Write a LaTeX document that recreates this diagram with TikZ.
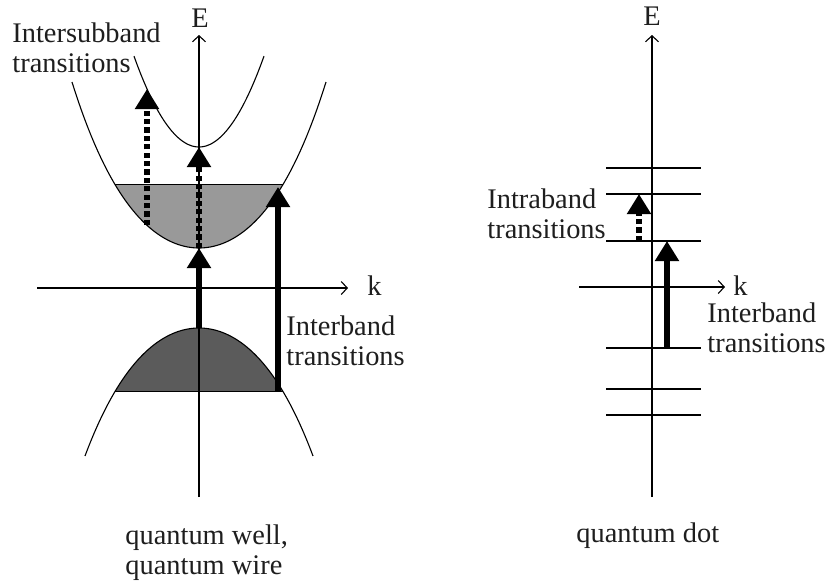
\documentclass[tikz,border=0pt]{standalone}
\usepackage{fontspec}
\setmainfont{Liberation Serif}
\usetikzlibrary{arrows.meta}
\definecolor{lightband}{HTML}{999999}
\definecolor{darkband}{HTML}{5B5B5B}
\definecolor{txt}{HTML}{1E1E1E}
\begin{document}
\begin{tikzpicture}[x=0.5pt,y=-0.5pt,
  thinline/.style={line width=0.55pt, black},
  axis/.style={thinline, -{Straight Barb[length=3pt,width=6.5pt]}},
  level/.style={thinline},
  solidarrow/.style={line width=3pt, black, -{Triangle[width=11.5pt,length=10pt]}},
  dasharrow/.style={line width=2.6pt, black, dash pattern=on 2.6pt off 1.6pt, -{Triangle[width=11.5pt,length=10pt]}},
  lbl/.style={font=\fontsize{14.2}{15}\selectfont, inner sep=0pt, text=txt, align=left, anchor=base west},
]
\useasboundingbox (0,0) rectangle (827,580);

% ---------- left: quantum well / wire ----------
% filled regions
\fill[lightband] plot[domain=-84:84, samples=60]
  ({199+\x},{248-80*(\x/100)*(\x/100)-14.2*(\x/100)*(\x/100)*(\x/100)*(\x/100)}) -- cycle;
\fill[darkband] plot[domain=-84:84, samples=60]
  ({199+\x},{328+80*(\x/100)*(\x/100)+14.2*(\x/100)*(\x/100)*(\x/100)*(\x/100)}) -- cycle;
% band curves
\draw[thinline] plot[domain=-127:127, samples=80]
  ({199+\x},{248-80*(\x/100)*(\x/100)-14.2*(\x/100)*(\x/100)*(\x/100)*(\x/100)});
\draw[thinline] plot[domain=-65:65, samples=60]
  ({199+\x},{147-215*(\x/100)*(\x/100)});
\draw[thinline] plot[domain=-114:114, samples=80]
  ({199+\x},{328+80*(\x/100)*(\x/100)+14.2*(\x/100)*(\x/100)*(\x/100)*(\x/100)});
% fill edges
\draw[thinline] (115,184.5) -- (283,184.5);
\draw[thinline] (115,391.5) -- (283,391.5);

% axes
\coordinate (LEb) at (199,497);
\coordinate (LEt) at (199,35);
\coordinate (Lkl) at (37,288);
\coordinate (Lkr) at (348,288);
\draw[axis] (LEb) -- (LEt);
\draw[axis] (Lkl) -- (Lkr);
\node[lbl, anchor=base] (LE) at (200,27) {E};
\node[lbl] (Lk) at (367,295) {k};

% transitions
\coordinate (d1a) at (147,225);
\coordinate (d1b) at (147,89);
\coordinate (d2a) at (199,248);
\coordinate (d2b) at (199,147);
\coordinate (s1a) at (199,328);
\coordinate (s1b) at (199,248);
\coordinate (s2a) at (278,391.5);
\coordinate (s2b) at (278,187);
\draw[dasharrow] (d1a) -- (d1b);
\draw[dasharrow] (d2a) -- (d2b);
\draw[solidarrow] (s1a) -- (s1b);
\draw[solidarrow] (s2a) -- (s2b);

% (multi-line nodes: base = baseline of last line)
\node[lbl] (intersub) at (12,72) {Intersubband\\transitions};
\node[lbl] (interL) at (286,365) {Interband\\transitions};
\node[lbl] (capL) at (125,574) {quantum well,\\quantum wire};

% ---------- right: quantum dot ----------
\coordinate (REb) at (652,497);
\coordinate (REt) at (652,35);
\coordinate (Rkl) at (579,287);
\coordinate (Rkr) at (725,287);
\draw[axis] (REb) -- (REt);
\draw[axis] (Rkl) -- (Rkr);
\node[lbl, anchor=base] (RE) at (652,25) {E};
\node[lbl] (Rk) at (733,295) {k};

\foreach \yy [count=\i] in {168,194,241,348,389,415}{
  \coordinate (lv\i a) at (606,\yy);
  \coordinate (lv\i b) at (701,\yy);
  \draw[level] (lv\i a) -- (lv\i b);
}
\coordinate (r1a) at (639,241);
\coordinate (r1b) at (639,194);
\coordinate (r2a) at (667,348);
\coordinate (r2b) at (667,241);
\draw[dasharrow] (r1a) -- (r1b);
\draw[solidarrow] (r2a) -- (r2b);

\node[lbl] (intra) at (487,238) {Intraband\\transitions};
\node[lbl] (interR) at (707,352) {Interband\\transitions};
\node[lbl] (capR) at (576,542) {quantum dot};
\end{tikzpicture}
\end{document}
